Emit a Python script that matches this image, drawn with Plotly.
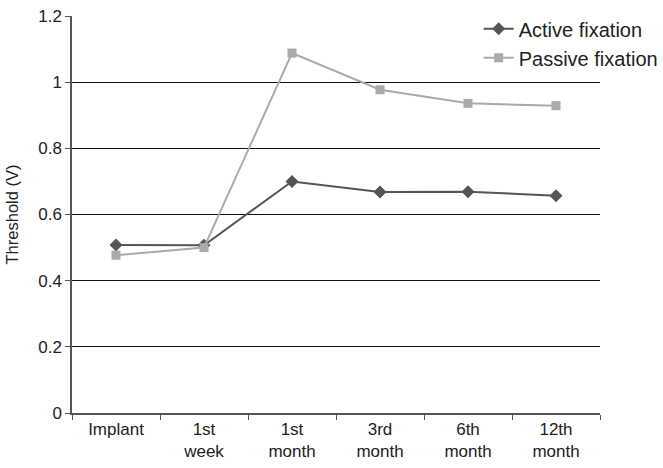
import plotly.graph_objects as go

categories = ["Implant", "1st<br>week", "1st<br>month", "3rd<br>month", "6th<br>month", "12th<br>month"]
active = [0.508, 0.507, 0.70, 0.668, 0.669, 0.657]
passive = [0.477, 0.50, 1.088, 0.977, 0.936, 0.929]
y_ticks = [0, 0.2, 0.4, 0.6, 0.8, 1.0, 1.2]
y_tick_text = ["0", "0.2", "0.4", "0.6", "0.8", "1", "1.2"]

fig = go.Figure()
fig.add_trace(go.Scatter(x=categories, y=active, name="Active fixation", mode="lines+markers",
                         line=dict(color="#555555", width=2),
                         marker=dict(symbol="diamond", size=10, color="#555555")))
fig.add_trace(go.Scatter(x=categories, y=passive, name="Passive fixation", mode="lines+markers",
                         line=dict(color="#aaaaaa", width=2),
                         marker=dict(symbol="square", size=9, color="#aaaaaa")))

fig.update_layout(
    width=663, height=468,
    margin=dict(l=72, r=63, t=16, b=55, autoexpand=False),
    paper_bgcolor="white", plot_bgcolor="white",
    font=dict(family="Liberation Sans, Arial, sans-serif", size=17, color="#222222"),
    legend=dict(xref="container", yref="container", x=0.722, y=0.98,
                xanchor="left", yanchor="top", font=dict(size=20),
                bgcolor="rgba(0,0,0,0)", itemwidth=30),
    showlegend=True,
)
fig.update_xaxes(type="category", tickson="boundaries", ticks="outside", ticklen=5,
                 tickcolor="#555555", showline=True, linecolor="#555555", linewidth=1.5,
                 showgrid=False, range=[-0.5, 5.5], tickfont=dict(size=17))
fig.update_yaxes(range=[0, 1.2], tickvals=y_ticks, ticktext=y_tick_text, ticks="outside",
                 ticklen=5, tickcolor="#555555", showline=True, linecolor="#555555", linewidth=1.5,
                 showgrid=True, gridcolor="#111111", gridwidth=1, zeroline=False,
                 tickfont=dict(size=17),
                 title=dict(text="Threshold (V)", font=dict(size=16.5), standoff=15))

fig.write_html("out.html", config={"displayModeBar": False},
               post_script="document.body.style.margin='0';document.body.style.padding='0';")
